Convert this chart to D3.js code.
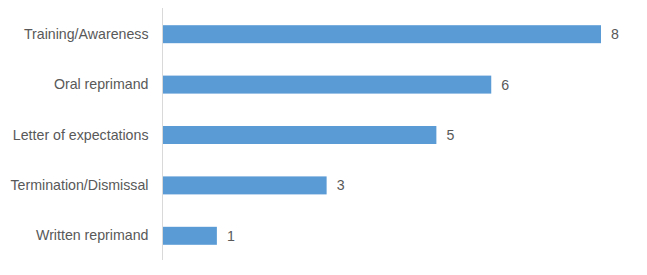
<!DOCTYPE html>
<html>
<head>
<meta charset="utf-8">
<script src="https://cdn.jsdelivr.net/npm/d3@7"></script>
<style>
  body { margin: 0; background: #fff; }
  text { font-family: "Liberation Sans", Arial, sans-serif; fill: #595959; }
</style>
</head>
<body>
<svg id="chart" width="647" height="275"></svg>
<script>
var categories = ["Training/Awareness", "Oral reprimand", "Letter of expectations", "Termination/Dismissal", "Written reprimand"];
var values = [8, 6, 5, 3, 1];

var svg = d3.select("#chart");
var plotLeft = 162, plotTop = 8, plotBottom = 260;

var x = d3.scaleLinear().domain([0, 8]).range([plotLeft, 601]);
var y = d3.scaleBand()
	.domain(categories)
	.range([plotTop + 1, plotBottom + 1])
	.paddingInner(0.643)
	.paddingOuter(0.643 / 2);

var data = categories.map(function(c, i) { return { name: c, value: values[i] }; });

// bars
svg.selectAll("rect.bar").data(data).enter()
	.append("rect")
	.attr("class", "bar")
	.attr("x", x(0))
	.attr("y", function(d) { return y(d.name); })
	.attr("width", function(d) { return x(d.value) - x(0); })
	.attr("height", y.bandwidth())
	.attr("fill", "#5B9BD5");

// category axis, no ticks
var yAxis = svg.append("g")
	.attr("transform", "translate(" + (plotLeft + 0.5) + ",0)")
	.call(d3.axisLeft(y).tickSize(0).tickPadding(14));
yAxis.select(".domain").attr("stroke", "#D9D9D9").attr("d", "M0," + plotTop + "V" + plotBottom);
yAxis.selectAll("text")
	.style("font-size", "14.2px")
	.style("fill", "#595959")
	.style("font-family", "'Liberation Sans', Arial, sans-serif");

// value labels
svg.selectAll("text.val").data(data).enter()
	.append("text")
	.attr("class", "val")
	.attr("x", function(d) { return x(d.value) + 10; })
	.attr("y", function(d) { return y(d.name) + y.bandwidth() / 2; })
	.attr("dy", "0.35em")
	.style("font-size", "14.2px")
	.text(function(d) { return d.value; });
</script>
</body>
</html>
